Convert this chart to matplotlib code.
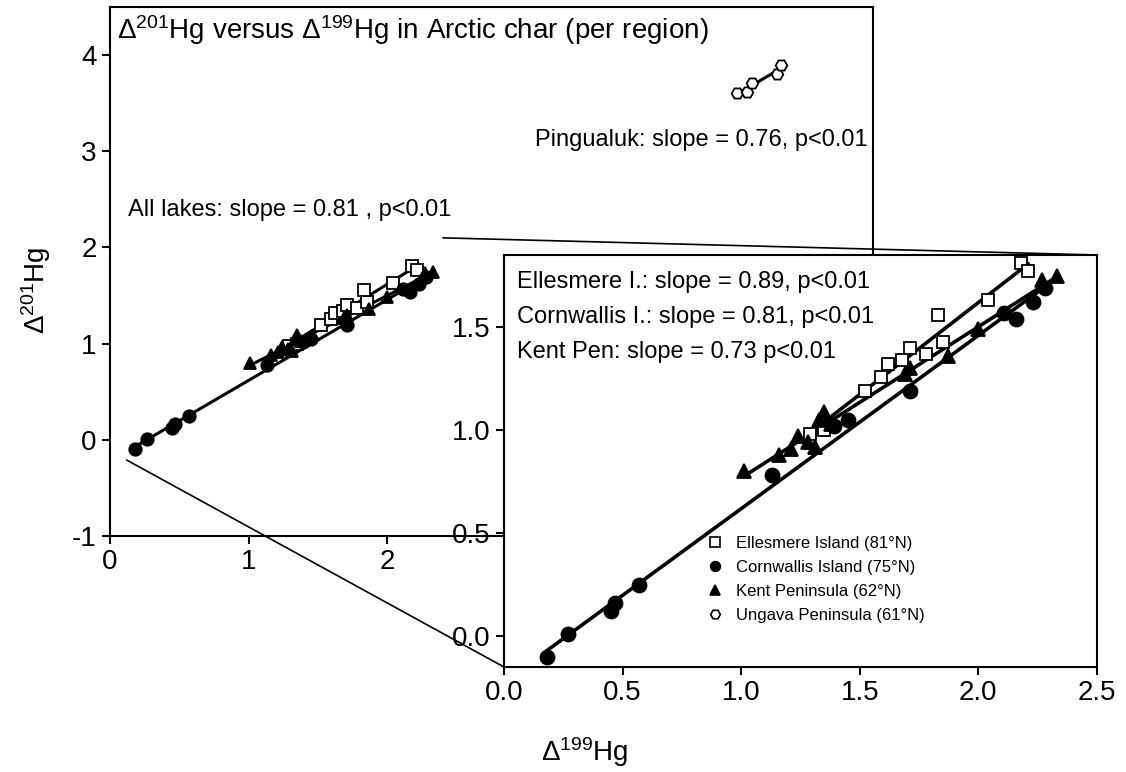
import numpy as np
import matplotlib
matplotlib.use("Agg")
import matplotlib.pyplot as plt
from matplotlib.patches import ConnectionPatch
from matplotlib.ticker import FormatStrFormatter

plt.rcParams['font.family'] = ['Liberation Sans', 'DejaVu Sans']
plt.rcParams['mathtext.fontset'] = 'custom'
plt.rcParams['mathtext.rm'] = 'Liberation Sans'
plt.rcParams['mathtext.it'] = 'Liberation Sans:italic'
plt.rcParams['axes.unicode_minus'] = False

# data (delta199Hg, delta201Hg)
elles_x = [1.29, 1.35, 1.52, 1.59, 1.62, 1.68, 1.71, 1.78, 1.85, 1.83, 2.04, 2.18, 2.21]
elles_y = [0.98, 1.00, 1.19, 1.26, 1.32, 1.34, 1.40, 1.37, 1.43, 1.56, 1.63, 1.81, 1.77]
cornw_x = [0.18, 0.27, 0.45, 0.47, 0.57, 1.13, 1.39, 1.45, 1.71, 2.11, 2.16, 2.23, 2.28]
cornw_y = [-0.10, 0.01, 0.12, 0.16, 0.25, 0.78, 1.02, 1.05, 1.19, 1.57, 1.54, 1.62, 1.69]
kent_x = [1.01, 1.16, 1.21, 1.24, 1.28, 1.31, 1.33, 1.35, 1.38, 1.69, 1.71, 1.87, 2.00, 2.27, 2.33]
kent_y = [0.80, 0.88, 0.91, 0.97, 0.94, 0.92, 1.05, 1.09, 1.03, 1.27, 1.30, 1.36, 1.49, 1.73, 1.75]
ungava_x = [4.52, 4.59, 4.63, 4.81, 4.84]
ungava_y = [3.61, 3.62, 3.71, 3.80, 3.90]

labels = ['Ellesmere Island (81°N)', 'Cornwallis Island (75°N)',
          'Kent Peninsula (62°N)', 'Ungava Peninsula (61°N)']
slope_texts = ['Ellesmere I.: slope = 0.89, p<0.01',
               'Cornwallis I.: slope = 0.81, p<0.01',
               'Kent Pen: slope = 0.73 p<0.01']

groups = [
    (elles_x, elles_y, dict(marker='s', mfc='white', mec='black'), 1.0),
    (cornw_x, cornw_y, dict(marker='o', mfc='black', mec='black'), 1.12),
    (kent_x, kent_y, dict(marker='^', mfc='black', mec='black'), 1.08),
    (ungava_x, ungava_y, dict(marker='H', mfc='white', mec='black'), 1.05),
]


def draw_group(ax, x, y, style, ms, lw):
    x = np.array(x)
    y = np.array(y)
    k, b = np.polyfit(x, y, 1)
    xs = np.array([x.min(), x.max()])
    ax.plot(xs, k * xs + b, color='black', lw=lw, zorder=2)
    ax.plot(x, y, ls='none', ms=ms, mew=1.3, zorder=3, **style)


fig = plt.figure(figsize=(11.26, 7.72), dpi=100)

# main panel
ax = fig.add_axes([0.0977, 0.3057, 0.6776, 0.6852])
for x, y, st, f in groups:
    draw_group(ax, x, y, st, ms=8 * f, lw=2.2)
ax.set_xlim(0, 5.5)
ax.set_ylim(-1, 4.5)
ax.set_xticks([0, 1, 2, 3, 4, 5])
ax.set_yticks([-1, 0, 1, 2, 3, 4])
ax.tick_params(labelsize=20, width=1.5, length=6, direction='out')
for s in ax.spines.values():
    s.set_linewidth(1.5)
ax.set_ylabel('Δ$^{\\mathrm{201}}$Hg', fontsize=20)
ax.yaxis.set_label_coords(-0.075, 0.465)
ax.text(0.009, 0.956, 'Δ$^{\\mathrm{201}}$Hg versus Δ$^{\\mathrm{199}}$Hg in Arctic char (per region)',
        transform=ax.transAxes, fontsize=20, va='center', ha='left')
ax.text(0.024, 0.616, 'All lakes: slope = 0.81 , p<0.01',
        transform=ax.transAxes, fontsize=17, va='center', ha='left')
ax.text(0.993, 0.749, 'Pingualuk: slope = 0.76, p<0.01',
        transform=ax.transAxes, fontsize=17, va='center', ha='right')

# zoomed inset
ins = fig.add_axes([0.4476, 0.1360, 0.5266, 0.5337])
handles = []
for x, y, st, f in groups[:3]:
    draw_group(ins, x, y, st, ms=9 * f, lw=2.6)
for x, y, st, f in groups:
    h, = ins.plot([], [], ls='none', ms=7, mew=1.2, **st)
    handles.append(h)
ins.set_xlim(0, 2.5)
ins.set_ylim(-0.15, 1.85)
ins.set_xticks(np.arange(0, 2.51, 0.5))
ins.set_yticks([0.0, 0.5, 1.0, 1.5])
ins.xaxis.set_major_formatter(FormatStrFormatter('%.1f'))
ins.yaxis.set_major_formatter(FormatStrFormatter('%.1f'))
ins.tick_params(labelsize=20, width=1.5, length=6, direction='out')
for s in ins.spines.values():
    s.set_linewidth(1.5)
for i, t in enumerate(slope_texts):
    ins.text(0.022, 0.934 - i * 0.085, t, transform=ins.transAxes,
             fontsize=17, va='center', ha='left')
ins.legend(handles, labels, loc='upper left', bbox_to_anchor=(0.33, 0.335),
           frameon=False, handletextpad=0.8, labelspacing=0.55,
           handlelength=1.0, borderaxespad=0,
           prop=dict(family=['Liberation Sans Narrow', 'Liberation Sans'], size=12))

# zoom connector lines
con1 = ConnectionPatch(xyA=(0.12, -0.21), coordsA=ax.transData,
                       xyB=(0, 0), coordsB=ins.transAxes, color='black', lw=1.2)
con2 = ConnectionPatch(xyA=(2.4, 2.1), coordsA=ax.transData,
                       xyB=(1, 1), coordsB=ins.transAxes, color='black', lw=1.2)
fig.add_artist(con1)
fig.add_artist(con2)

fig.text(585 / 1126, 1 - 752 / 772, 'Δ$^{\\mathrm{199}}$Hg', fontsize=20,
         ha='center', va='center')

fig.savefig('out.png', dpi=100)
